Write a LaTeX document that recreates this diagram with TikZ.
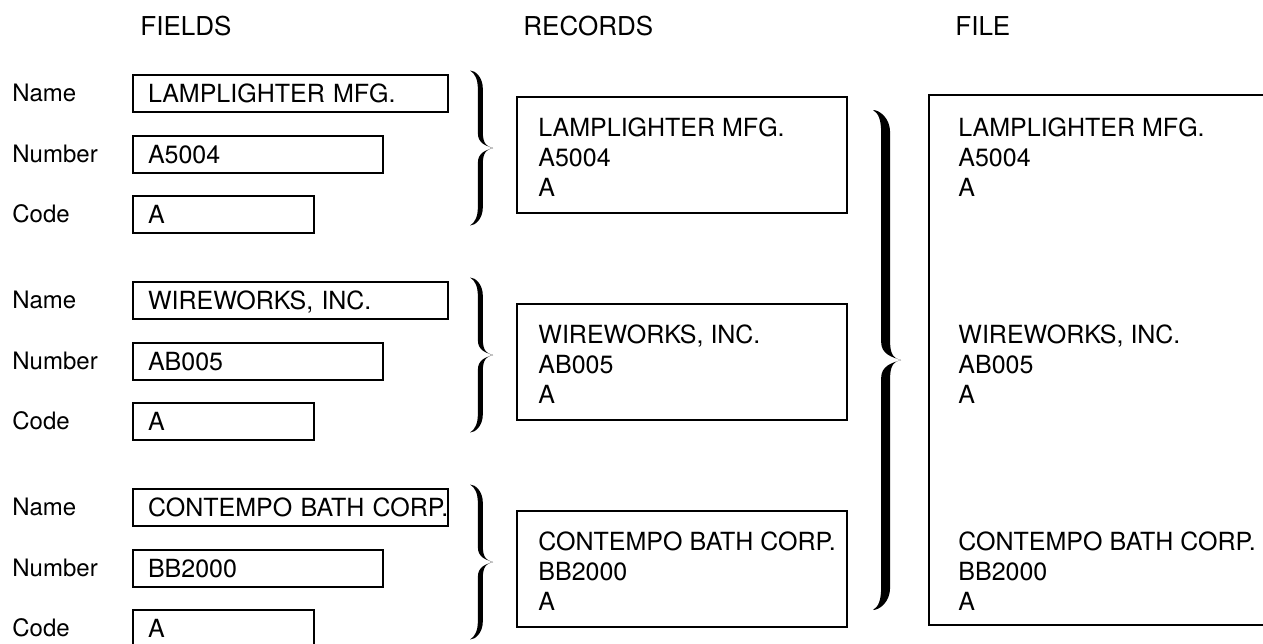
\documentclass[tikz,border=0pt]{standalone}
\usepackage{fontspec}
\setmainfont{TeX Gyre Heros}
\usetikzlibrary{positioning}

\begin{document}
\begin{tikzpicture}[x=0.5pt, y=-0.5pt,
    every node/.style={inner sep=0pt},
    head/.style={font=\fontsize{13}{13}\selectfont, anchor=base west},
    lab/.style={font=\fontsize{12}{12}\selectfont, anchor=west},
    fieldbox/.style={draw, line width=1pt, anchor=west, minimum height=18.5pt, inner xsep=7.5pt, text width=#1, align=left, text height=9pt, text depth=0pt, font=\fontsize{12.5}{12.5}\selectfont},
    recbox/.style={draw, line width=1pt, minimum width=165pt, minimum height=58pt},
    rectext/.style={anchor=north west, align=left, font=\fontsize{12.5}{15}\selectfont},
    % filled curly brace: half height, width, half thickness
    pics/curly/.style n args={3}{code={
        \pgfmathsetmacro\brH{#1}\pgfmathsetmacro\brW{#2}\pgfmathsetmacro\brT{#3}
        \pgfmathsetmacro\brA{0.45*#2}\pgfmathsetmacro\brE{0.8*#2}\pgfmathsetmacro\brM{0.65*#2}
        \fill (0,-\brH) .. controls (0.5*\brA,-\brH) and (\brA+\brT,-\brH+0.35*\brE) .. (\brA+\brT,-\brH+\brE)
            -- (\brA+\brT,-\brM) .. controls (\brA+\brT,-0.3*\brM) and (0.75*\brW,-0.05*\brM) .. (\brW,0)
            .. controls (0.75*\brW,0.05*\brM) and (\brA+\brT,0.3*\brM) .. (\brA+\brT,\brM)
            -- (\brA+\brT,\brH-\brE) .. controls (\brA+\brT,\brH-0.35*\brE) and (0.5*\brA,\brH) .. (0,\brH)
            .. controls (0.45*\brA,\brH-0.15*\brE) and (\brA-\brT,\brH-0.45*\brE) .. (\brA-\brT,\brH-\brE)
            -- (\brA-\brT,\brM) .. controls (\brA-\brT,0.3*\brM) and (0.7*\brW,0.15*\brM) .. (\brW,0)
            .. controls (0.7*\brW,-0.15*\brM) and (\brA-\brT,-0.3*\brM) .. (\brA-\brT,-\brM)
            -- (\brA-\brT,-\brH+\brE) .. controls (\brA-\brT,-\brH+0.45*\brE) and (0.45*\brA,-\brH+0.15*\brE) .. (0,-\brH) -- cycle;
    }}
]
\useasboundingbox (0,0) rectangle (1263,643);

% column heads
\node[head] (hfields) at (140,35) {FIELDS};
\node[head] (hrecords) at (523,35) {RECORDS};
\node[head] (hfile) at (955,35) {FILE};

% first record
\node[lab] (lnameA) at (12,93) {Name};
\node[lab] (lnumA) at (12,154) {Number};
\node[lab] (lcodeA) at (12,214) {Code};
\node[fieldbox=142.5pt] (nameA) at (132,93) {LAMPLIGHTER MFG.};
\node[fieldbox=110pt] (numA) at (132,154) {A5004};
\node[fieldbox=75.5pt] (codeA) at (132,214) {A};
\pic (bA) at (470,148) {curly={77.5}{23}{2.5}};
\node[recbox] (recA) at (682,155) {};
\node[rectext] (recAt) at (538,117) {LAMPLIGHTER MFG.\\A5004\\A};

% second record
\node[lab] (lnameB) at (12,300) {Name};
\node[lab] (lnumB) at (12,361) {Number};
\node[lab] (lcodeB) at (12,421) {Code};
\node[fieldbox=142.5pt] (nameB) at (132,300) {WIREWORKS, INC.};
\node[fieldbox=110pt] (numB) at (132,361) {AB005};
\node[fieldbox=75.5pt] (codeB) at (132,421) {A};
\pic (bB) at (470,355) {curly={77.5}{23}{2.5}};
\node[recbox] (recB) at (682,362) {};
\node[rectext] (recBt) at (538,324) {WIREWORKS, INC.\\AB005\\A};

% third record
\node[lab] (lnameC) at (12,507) {Name};
\node[lab] (lnumC) at (12,568) {Number};
\node[lab] (lcodeC) at (12,628) {Code};
\node[fieldbox=142.5pt] (nameC) at (132,507) {CONTEMPO~BATH~CORP.};
\node[fieldbox=110pt] (numC) at (132,568) {BB2000};
\node[fieldbox=75.5pt] (codeC) at (132,628) {A};
\pic (bC) at (470,562) {curly={77.5}{23}{2.5}};
\node[recbox] (recC) at (682,569) {};
\node[rectext] (recCt) at (538,531) {CONTEMPO BATH CORP.\\BB2000\\A};

% the file
\pic (bfile) at (873,360) {curly={250}{28}{4.5}};
\node[recbox, minimum width=185.5pt, minimum height=265pt] (file) at (1114.5,360) {};
\node[rectext] (fileAt) at (958,117) {LAMPLIGHTER MFG.\\A5004\\A};
\node[rectext] (fileBt) at (958,324) {WIREWORKS, INC.\\AB005\\A};
\node[rectext] (fileCt) at (958,531) {CONTEMPO BATH CORP.\\BB2000\\A};
\end{tikzpicture}
\end{document}
